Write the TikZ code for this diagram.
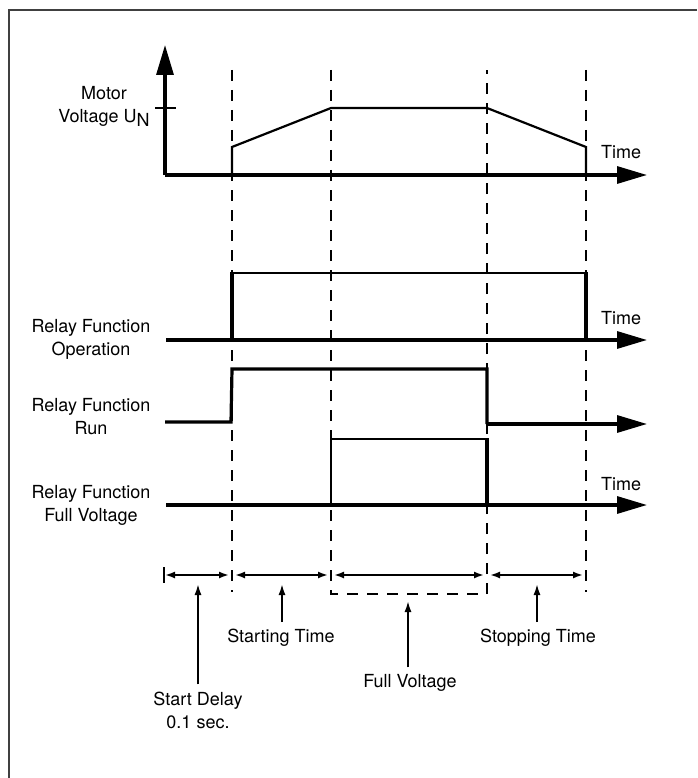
\documentclass[tikz,border=0pt]{standalone}
\usepackage{fontspec}
\setmainfont{TeX Gyre Heros}
\usetikzlibrary{arrows.meta, positioning}

\begin{document}
\begin{tikzpicture}[x=1pt, y=-1pt,
	axis/.style={line width=3.2pt, -{Triangle[length=30pt,width=17pt]}},
	sig/.style={line width=2.2pt},
	bold/.style={line width=3.2pt},
	guide/.style={line width=2.2pt, dash pattern=on 11pt off 9pt},
	dim/.style={line width=1.8pt, {Latex[length=10pt,width=7pt]}-{Latex[length=10pt,width=7pt]}},
	pointer/.style={line width=1.8pt, -{Latex[length=11pt,width=7pt]}},
	lbl/.style={font=\fontsize{18}{23}\selectfont, align=center, inner sep=0pt}]
			\useasboundingbox (0,0) rectangle (697,778);
			\draw[line width=2pt, black!75] (697,10.5) -- (8.5,10.5) -- (8.5,778);

			% guide lines
			\draw[guide] (232,70) -- (232,592);
			\draw[guide] (331,70) -- (331,594) -- (487,594) -- (487,70);
			\draw[guide] (586,70) -- (586,592);

			% motor voltage
			\coordinate (m0) at (165,175);
			\coordinate (mtop) at (165,45);
			\coordinate (mend) at (647,175);
			\draw[axis] (m0) -- (mtop);
			\draw[axis] (m0) -- (mend);
			\draw[sig] (155,108) -- (176,108);
			\draw[sig] (232,175) -- (232,147) -- (331,108) -- (487,108) -- (586,147) -- (586,175);
			\node (mot)[lbl] at (104,106) {Motor\\Voltage U\raisebox{-4pt}{N}};
			\node (t1)[lbl] at (621,152) {Time};

			% operation
			\coordinate (o0) at (166,340);
			\coordinate (oend) at (647,340);
			\draw[axis] (o0) -- (oend);
			\draw[sig] (232,273) -- (586,273);
			\draw[bold] (232,340) -- (232,272);
			\draw[bold] (586,340) -- (586,272);
			\node (op)[lbl] at (91,339) {Relay Function\\Operation};
			\node (t2)[lbl] at (621,318) {Time};

			% run
			\coordinate (r0) at (165,422);
			\coordinate (rend) at (647,424);
			\draw[bold] (r0) -- (231,422) -- (232,369) -- (487,369) -- (487,424);
			\draw[axis] (486,424) -- (rend);
			\node (run)[lbl] at (91,417) {Relay Function\\Run};

			% full voltage
			\coordinate (f0) at (166,505);
			\coordinate (fend) at (647,505);
			\draw[axis] (f0) -- (fend);
			\draw[sig] (331,505) -- (331,439) -- (487,439);
			\draw[bold] (487,438) -- (487,505);
			\node (full)[lbl] at (91,505) {Relay Function\\Full Voltage};
			\node (t3)[lbl] at (621,484) {Time};

			% time spans
			\draw[sig] (164,567) -- (164,583);
			\draw[dim] (165,575) -- (229,575);
			\draw[dim] (235,575) -- (328,575);
			\draw[dim] (334,575) -- (484,575);
			\draw[dim] (490,575) -- (583,575);

			\node (sd)[lbl] at (198,710) {Start Delay\\0.1 sec.};
			\node (st)[lbl] at (281,638) {Starting Time};
			\node (fv)[lbl] at (410,683) {Full Voltage};
			\node (sp)[lbl] at (538,638) {Stopping Time};
			\draw[pointer] ([yshift=7pt]sd.north) -- (198,584);
			\draw[pointer] ([xshift=1pt, yshift=7pt]st.north) -- (282,584);
			\draw[pointer] ([xshift=-2pt, yshift=7pt]fv.north) -- (408,601);
			\draw[pointer] ([xshift=-1pt, yshift=7pt]sp.north) -- (537,584);
		\end{tikzpicture}
\end{document}
